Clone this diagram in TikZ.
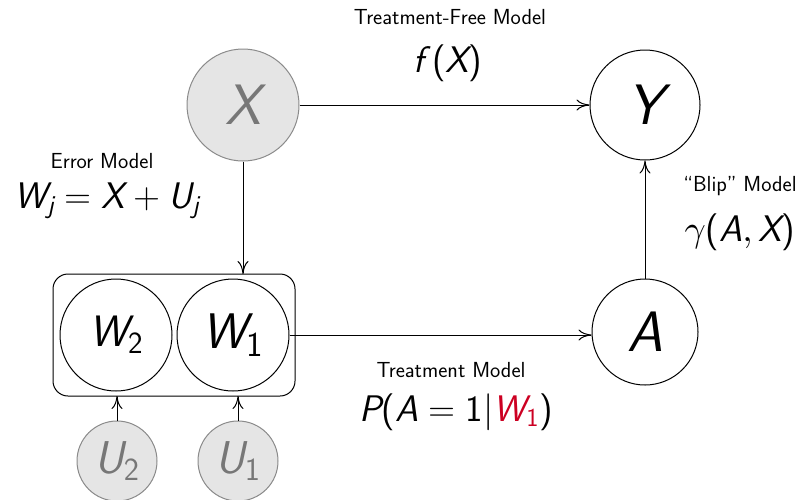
\documentclass[tikz,border=0pt]{standalone}
\usepackage[no-math]{fontspec}
\usetikzlibrary{arrows.meta}
\DeclareFontFamily{OML}{cmm}{\skewchar\font127}
\DeclareFontShape{OML}{cmm}{m}{it}{<->cmmi10}{}
\DeclareFontFamily{OMS}{cmsy}{\skewchar\font48}
\DeclareFontShape{OMS}{cmsy}{m}{n}{<->cmsy10}{}
\DeclareSymbolFont{operators}{TU}{lmss}{m}{n}
\DeclareSymbolFont{sfit}{TU}{lmss}{m}{it}
\makeatletter
\@for\ltr:=A,B,C,D,E,F,G,H,I,J,K,L,M,N,O,P,Q,R,S,T,U,V,W,X,Y,Z,a,b,c,d,e,f,g,h,i,j,k,l,m,n,o,p,q,r,s,t,u,v,w,x,y,z\do{%
  \expandafter\DeclareMathSymbol\expandafter{\ltr}{\mathalpha}{sfit}{\expandafter`\ltr}}
\makeatother
\definecolor{obsfill}{HTML}{E5E5E5}
\definecolor{obsdraw}{HTML}{8A8A8A}
\definecolor{obstext}{HTML}{777777}
\definecolor{wred}{HTML}{CC0022}
\tikzset{
  var/.style={circle,draw=black,line width=1pt,inner sep=0pt,minimum size=#1},
  hid/.style={circle,draw=obsdraw,fill=obsfill,line width=1pt,text=obstext,inner sep=0pt,minimum size=#1},
  lab/.style={font=\sffamily\fontsize{21.8}{26}\selectfont},
  eq/.style={font=\fontsize{37}{42}\selectfont},
  arr/.style={-{To[length=13pt,width=11pt]},line width=1pt},
}
\begin{document}
\begin{tikzpicture}[x=1pt,y=-1pt]
\useasboundingbox (0,0) rectangle (799,499);
\node[hid=112pt,font=\fontsize{57}{60}\selectfont] (X) at (243,105) {$X$};
\node[var=110pt,font=\fontsize{57}{60}\selectfont] (Y) at (645,105) {$Y$};
\node[var=106pt,font=\fontsize{57}{60}\selectfont] (A) at (645,332) {$A$};
\node[var=112pt,font=\fontsize{44}{48}\selectfont] (W2) at (116,335) {$W_2$};
\node[var=112pt,font=\fontsize{50}{54}\selectfont] (W1) at (233,335) {$W_1$};
\node[hid=80pt,font=\fontsize{46}{50}\selectfont] (U2) at (117,461) {$U_2$};
\node[hid=80pt,font=\fontsize{46}{50}\selectfont] (U1) at (238,461) {$U_1$};
\node[draw,line width=1pt,rounded corners=15pt,minimum width=242pt,minimum height=122pt,inner sep=0pt] (box) at (174,335) {};
\coordinate (boxtopX) at (243,274);
\coordinate (boxbotU2) at (117,396);
\coordinate (boxbotU1) at (238,396);
\draw[arr] (X) -- (Y);
\draw[arr] (X) -- (boxtopX);
\draw[arr] (W1.east) -- (W1.east -| A.west);
\draw[arr] (A) -- (Y);
\draw[arr] (U2) -- (boxbotU2);
\draw[arr] (U1) -- (boxbotU1);
\node[lab] (tfm) at (450,17) {Treatment-Free Model};
\node[eq] (fx) at (448,63) {$f\mkern4mu(X)$};
\node[lab] (em) at (102,161) {Error Model};
\node[eq] (wj) at (107,201) {$W_j = X + U_j$};
\node[lab] (bm) at (740,186) {“Blip” Model};
\node[eq] (gam) at (740,232) {$\gamma(A,X)$};
\node[lab] (tm) at (451,370) {Treatment Model};
\node[eq] (pa) at (456,412) {$P(A=1|\textcolor{wred}{W_1})$};
\end{tikzpicture}
\end{document}
